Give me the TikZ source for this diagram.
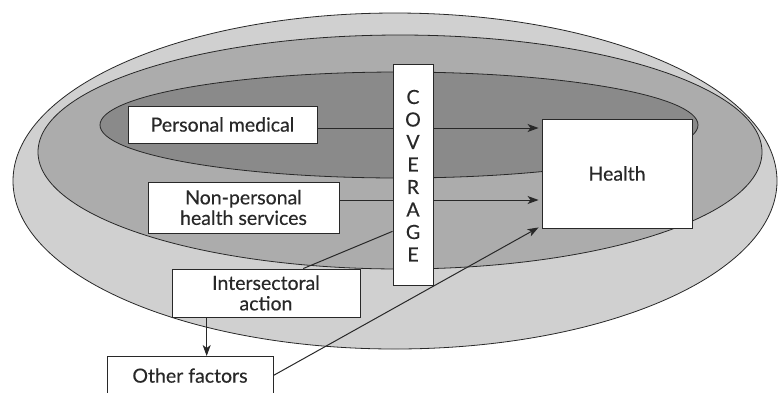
\documentclass[tikz,border=0pt]{standalone}
\usepackage{fontspec}
\newfontfamily\lab{Lato}[FakeBold=0.35]
\usetikzlibrary{arrows.meta,calc}
\definecolor{outerg}{RGB}{208,208,208}
\definecolor{midg}{RGB}{172,172,172}
\definecolor{innerg}{RGB}{138,138,138}
\definecolor{ink}{RGB}{40,40,40}
\begin{document}
\begin{tikzpicture}[x=1pt,y=-1pt,
  lbl/.style={font=\lab\fontsize{19.5}{20.5}\selectfont, text=ink},
  box/.style={lbl, draw=ink, line width=0.9pt, fill=white, inner sep=0pt, align=center},
  conn/.style={draw=ink, line width=1pt},
  arr/.style={conn, -{Stealth[length=11pt,width=8pt,inset=3pt]}},
  ring/.style={draw=ink, line width=0.8pt}]
\useasboundingbox (0,0) rectangle (778,392);
\fill[white] (0,0) rectangle (778,392);
% ellipses
\draw[ring, fill=outerg] (395,181) ellipse [x radius=382, y radius=168];
\draw[ring, fill=midg] (400,152) ellipse [x radius=362, y radius=117];
\draw[ring, fill=innerg] (399,125) ellipse [x radius=299, y radius=53];
% nodes
\node[box, minimum width=189pt, minimum height=37pt] (pm) at (222.5,124.5) {Personal medical};
\node[box, minimum width=191pt, minimum height=51pt] (np) at (243.5,207.5) {Non-personal\\health services};
\node[box, minimum width=188pt, minimum height=48pt] (ia) at (266,293) {Intersectoral\\action};
\node[box, minimum width=166pt, minimum height=40pt, anchor=north] (of) at (190,356) {\raisebox{2pt}{Other factors}};
\node[box, minimum width=150pt, minimum height=109pt] (he) at (617,173.5) {Health};
% connectors (behind coverage box)
\coordinate (iatop) at ($(ia.north west)!0.697!(ia.north east)$);
\coordinate (iabot) at ($(ia.south west)!0.186!(ia.south east)$);
\draw[arr] ([yshift=-3.5pt]pm.east) -- ([xshift=-3pt,yshift=-3.5pt]pm.east -| he.west);
\draw[arr] ([yshift=7.5pt]np.east) -- ([xshift=-3pt,yshift=7.5pt]np.east -| he.west);
\draw[arr] ([yshift=1pt]of.east) -- ([xshift=-3pt,yshift=1pt]he.south west);
\draw[arr] (iabot) -- (iabot |- of.north);
\node[box, minimum width=40pt, minimum height=221pt] (cov) at (413,174.5) {};
\draw[conn] (iatop) -- ($(cov.south west)!0.244!(cov.north west)$);
\foreach \l [count=\i from 0] in {C,O,V,E,R,A,G,E}
  \node[lbl, inner sep=0pt] (cl\i) at (413,97+22.5*\i) {\l};
\end{tikzpicture}
\end{document}
